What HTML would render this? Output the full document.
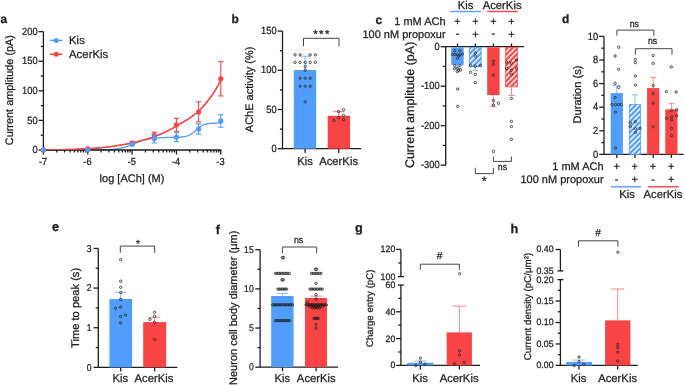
<!DOCTYPE html>
<html><head><meta charset="utf-8"><style>
html,body{margin:0;padding:0;background:#fff;overflow:hidden;}
svg{display:block;will-change:transform;}
text{font-family:"Liberation Sans", sans-serif;fill:#1e1e1e;stroke:#1e1e1e;stroke-width:0.25px;}
</style></head><body>
<svg width="685" height="385" viewBox="0 0 685 385">
<rect width="685" height="385" fill="#fff"/>
<defs>
<pattern id="hb" patternUnits="userSpaceOnUse" width="3.75" height="3.75" patternTransform="rotate(45)">
<rect width="3.75" height="3.75" fill="#529df9"/><rect x="0" width="1.45" height="3.75" fill="#fff"/></pattern>
<pattern id="hr" patternUnits="userSpaceOnUse" width="3.75" height="3.75" patternTransform="rotate(45)">
<rect width="3.75" height="3.75" fill="#f84444"/><rect x="0" width="1.45" height="3.75" fill="#fff"/></pattern>
<clipPath id="clipa"><rect x="40" y="0" width="200" height="149.9"/></clipPath>
</defs>
<text font-size="12" font-weight="bold" transform="translate(0.50 22.60) skewX(0.4)">a</text>
<path d="M43.40,150.00 L44.14,150.00 L44.88,150.00 L45.63,150.00 L46.37,150.00 L47.11,150.00 L47.85,150.00 L48.60,150.00 L49.34,150.00 L50.08,150.00 L50.82,150.00 L51.56,150.00 L52.31,150.00 L53.05,150.00 L53.79,150.00 L54.53,150.00 L55.28,150.00 L56.02,150.00 L56.76,150.00 L57.50,150.00 L58.25,150.00 L58.99,150.00 L59.73,150.00 L60.47,150.00 L61.21,150.00 L61.96,150.00 L62.70,150.00 L63.44,150.00 L64.18,150.00 L64.93,150.00 L65.67,150.00 L66.41,150.00 L67.15,150.00 L67.89,150.00 L68.64,150.00 L69.38,150.00 L70.12,150.00 L70.86,150.00 L71.61,150.00 L72.35,150.00 L73.09,150.00 L73.83,150.00 L74.57,149.99 L75.32,149.99 L76.06,149.99 L76.80,149.99 L77.54,149.99 L78.29,149.99 L79.03,149.99 L79.77,149.99 L80.51,149.99 L81.26,149.99 L82.00,149.99 L82.74,149.98 L83.48,149.98 L84.22,149.98 L84.97,149.98 L85.71,149.98 L86.45,149.97 L87.19,149.97 L87.94,149.97 L88.68,149.97 L89.42,149.96 L90.16,149.96 L90.90,149.95 L91.65,149.95 L92.39,149.95 L93.13,149.94 L93.87,149.93 L94.62,149.93 L95.36,149.92 L96.10,149.91 L96.84,149.90 L97.58,149.89 L98.33,149.88 L99.07,149.87 L99.81,149.86 L100.55,149.84 L101.30,149.83 L102.04,149.81 L102.78,149.79 L103.52,149.77 L104.27,149.75 L105.01,149.72 L105.75,149.70 L106.49,149.67 L107.23,149.63 L107.98,149.60 L108.72,149.56 L109.46,149.51 L110.20,149.47 L110.95,149.42 L111.69,149.36 L112.43,149.30 L113.17,149.23 L113.91,149.16 L114.66,149.08 L115.40,148.99 L116.14,148.90 L116.88,148.80 L117.63,148.69 L118.37,148.57 L119.11,148.45 L119.85,148.31 L120.59,148.17 L121.34,148.01 L122.08,147.84 L122.82,147.66 L123.56,147.47 L124.31,147.27 L125.05,147.06 L125.79,146.84 L126.53,146.60 L127.28,146.36 L128.02,146.10 L128.76,145.84 L129.50,145.56 L130.24,145.28 L130.99,144.99 L131.73,144.70 L132.47,144.40 L133.21,144.09 L133.96,143.79 L134.70,143.48 L135.44,143.18 L136.18,142.87 L136.92,142.57 L137.67,142.28 L138.41,141.99 L139.15,141.71 L139.89,141.43 L140.64,141.17 L141.38,140.91 L142.12,140.67 L142.86,140.43 L143.61,140.21 L144.35,140.00 L145.09,139.80 L145.83,139.61 L146.57,139.43 L147.32,139.26 L148.06,139.11 L148.80,138.96 L149.54,138.83 L150.29,138.70 L151.03,138.58 L151.77,138.47 L152.51,138.37 L153.25,138.28 L154.00,138.19 L154.74,138.12 L155.48,138.04 L156.22,137.98 L156.97,137.92 L157.71,137.86 L158.45,137.81 L159.19,137.76 L159.93,137.72 L160.68,137.68 L161.42,137.64 L162.16,137.61 L162.90,137.58 L163.65,137.55 L164.39,137.53 L165.13,137.50 L165.87,137.48 L166.62,137.46 L167.36,137.44 L168.10,137.42 L168.84,137.41 L169.58,137.39 L170.33,137.38 L171.07,137.36 L171.81,137.35 L172.55,137.33 L173.30,137.32 L174.04,137.30 L174.78,137.29 L175.52,137.27 L176.26,137.25 L177.01,137.22 L177.75,137.20 L178.49,137.17 L179.23,137.13 L179.98,137.09 L180.72,137.04 L181.46,136.98 L182.20,136.91 L182.94,136.83 L183.69,136.74 L184.43,136.62 L185.17,136.48 L185.91,136.32 L186.66,136.13 L187.40,135.90 L188.14,135.64 L188.88,135.34 L189.63,134.99 L190.37,134.59 L191.11,134.15 L191.85,133.65 L192.59,133.10 L193.34,132.51 L194.08,131.89 L194.82,131.23 L195.56,130.55 L196.31,129.87 L197.05,129.19 L197.79,128.53 L198.53,127.90 L199.27,127.30 L200.02,126.75 L200.76,126.25 L201.50,125.80 L202.24,125.40 L202.99,125.05 L203.73,124.75 L204.47,124.48 L205.21,124.26 L205.95,124.06 L206.70,123.90 L207.44,123.76 L208.18,123.65 L208.92,123.55 L209.67,123.47 L210.41,123.40 L211.15,123.35 L211.89,123.30 L212.64,123.26 L213.38,123.23 L214.12,123.20 L214.86,123.18 L215.60,123.16 L216.35,123.15 L217.09,123.13 L217.83,123.12 L218.57,123.12 L219.32,123.11 L220.06,123.10 L220.80,123.10" fill="none" stroke="#529df9" stroke-width="1.3"/>
<path d="M43.40,149.82 L44.14,149.82 L44.88,149.81 L45.63,149.80 L46.37,149.80 L47.11,149.79 L47.85,149.78 L48.60,149.78 L49.34,149.77 L50.08,149.76 L50.82,149.75 L51.56,149.74 L52.31,149.74 L53.05,149.73 L53.79,149.72 L54.53,149.71 L55.28,149.70 L56.02,149.69 L56.76,149.68 L57.50,149.67 L58.25,149.66 L58.99,149.65 L59.73,149.63 L60.47,149.62 L61.21,149.61 L61.96,149.60 L62.70,149.58 L63.44,149.57 L64.18,149.55 L64.93,149.54 L65.67,149.52 L66.41,149.51 L67.15,149.49 L67.89,149.48 L68.64,149.46 L69.38,149.44 L70.12,149.42 L70.86,149.40 L71.61,149.38 L72.35,149.36 L73.09,149.34 L73.83,149.32 L74.57,149.30 L75.32,149.28 L76.06,149.25 L76.80,149.23 L77.54,149.20 L78.29,149.18 L79.03,149.15 L79.77,149.12 L80.51,149.09 L81.26,149.06 L82.00,149.03 L82.74,149.00 L83.48,148.97 L84.22,148.93 L84.97,148.90 L85.71,148.86 L86.45,148.83 L87.19,148.79 L87.94,148.75 L88.68,148.71 L89.42,148.66 L90.16,148.62 L90.90,148.57 L91.65,148.52 L92.39,148.47 L93.13,148.42 L93.87,148.36 L94.62,148.30 L95.36,148.25 L96.10,148.18 L96.84,148.12 L97.58,148.06 L98.33,147.99 L99.07,147.92 L99.81,147.85 L100.55,147.77 L101.30,147.70 L102.04,147.62 L102.78,147.54 L103.52,147.46 L104.27,147.38 L105.01,147.29 L105.75,147.20 L106.49,147.11 L107.23,147.02 L107.98,146.93 L108.72,146.84 L109.46,146.75 L110.20,146.65 L110.95,146.55 L111.69,146.45 L112.43,146.35 L113.17,146.25 L113.91,146.15 L114.66,146.04 L115.40,145.93 L116.14,145.82 L116.88,145.71 L117.63,145.60 L118.37,145.48 L119.11,145.36 L119.85,145.24 L120.59,145.12 L121.34,144.99 L122.08,144.86 L122.82,144.73 L123.56,144.60 L124.31,144.47 L125.05,144.33 L125.79,144.19 L126.53,144.05 L127.28,143.90 L128.02,143.76 L128.76,143.61 L129.50,143.45 L130.24,143.30 L130.99,143.14 L131.73,142.98 L132.47,142.82 L133.21,142.65 L133.96,142.48 L134.70,142.31 L135.44,142.14 L136.18,141.96 L136.92,141.79 L137.67,141.61 L138.41,141.42 L139.15,141.24 L139.89,141.05 L140.64,140.86 L141.38,140.66 L142.12,140.47 L142.86,140.27 L143.61,140.06 L144.35,139.86 L145.09,139.64 L145.83,139.43 L146.57,139.21 L147.32,138.99 L148.06,138.76 L148.80,138.53 L149.54,138.30 L150.29,138.06 L151.03,137.82 L151.77,137.57 L152.51,137.31 L153.25,137.05 L154.00,136.79 L154.74,136.52 L155.48,136.24 L156.22,135.95 L156.97,135.66 L157.71,135.37 L158.45,135.07 L159.19,134.76 L159.93,134.45 L160.68,134.13 L161.42,133.80 L162.16,133.47 L162.90,133.13 L163.65,132.79 L164.39,132.44 L165.13,132.08 L165.87,131.72 L166.62,131.36 L167.36,130.98 L168.10,130.61 L168.84,130.22 L169.58,129.83 L170.33,129.44 L171.07,129.04 L171.81,128.64 L172.55,128.23 L173.30,127.82 L174.04,127.41 L174.78,126.99 L175.52,126.57 L176.26,126.14 L177.01,125.71 L177.75,125.28 L178.49,124.85 L179.23,124.42 L179.98,123.99 L180.72,123.56 L181.46,123.12 L182.20,122.68 L182.94,122.24 L183.69,121.79 L184.43,121.34 L185.17,120.88 L185.91,120.42 L186.66,119.96 L187.40,119.48 L188.14,119.00 L188.88,118.52 L189.63,118.02 L190.37,117.51 L191.11,117.00 L191.85,116.47 L192.59,115.93 L193.34,115.37 L194.08,114.81 L194.82,114.22 L195.56,113.62 L196.31,113.00 L197.05,112.37 L197.79,111.71 L198.53,111.03 L199.27,110.33 L200.02,109.61 L200.76,108.88 L201.50,108.12 L202.24,107.35 L202.99,106.56 L203.73,105.75 L204.47,104.91 L205.21,104.06 L205.95,103.19 L206.70,102.29 L207.44,101.37 L208.18,100.43 L208.92,99.46 L209.67,98.47 L210.41,97.45 L211.15,96.41 L211.89,95.34 L212.64,94.25 L213.38,93.12 L214.12,91.97 L214.86,90.79 L215.60,89.58 L216.35,88.33 L217.09,87.06 L217.83,85.75 L218.57,84.41 L219.32,83.03 L220.06,81.62 L220.80,80.17" fill="none" stroke="#f84444" stroke-width="1.3"/>
<line x1="43.40" y1="31.65" x2="43.40" y2="150.65" stroke="#1e1e1e" stroke-width="1.3" stroke-linecap="butt"/>
<line x1="38.60" y1="150.00" x2="43.40" y2="150.00" stroke="#1e1e1e" stroke-width="1.3" stroke-linecap="butt"/>
<line x1="38.60" y1="120.41" x2="43.40" y2="120.41" stroke="#1e1e1e" stroke-width="1.3" stroke-linecap="butt"/>
<line x1="38.60" y1="90.83" x2="43.40" y2="90.83" stroke="#1e1e1e" stroke-width="1.3" stroke-linecap="butt"/>
<line x1="38.60" y1="61.24" x2="43.40" y2="61.24" stroke="#1e1e1e" stroke-width="1.3" stroke-linecap="butt"/>
<line x1="38.60" y1="31.65" x2="43.40" y2="31.65" stroke="#1e1e1e" stroke-width="1.3" stroke-linecap="butt"/>
<line x1="40.80" y1="135.21" x2="43.40" y2="135.21" stroke="#1e1e1e" stroke-width="1.3" stroke-linecap="butt"/>
<line x1="40.80" y1="105.62" x2="43.40" y2="105.62" stroke="#1e1e1e" stroke-width="1.3" stroke-linecap="butt"/>
<line x1="40.80" y1="76.03" x2="43.40" y2="76.03" stroke="#1e1e1e" stroke-width="1.3" stroke-linecap="butt"/>
<line x1="40.80" y1="46.44" x2="43.40" y2="46.44" stroke="#1e1e1e" stroke-width="1.3" stroke-linecap="butt"/>
<text font-size="10.4" text-anchor="end" transform="translate(37.60 153.12) skewX(0.4) scale(0.9 1)">0</text>
<text font-size="10.4" text-anchor="end" transform="translate(37.60 123.53) skewX(0.4) scale(0.9 1)">50</text>
<text font-size="10.4" text-anchor="end" transform="translate(37.60 93.95) skewX(0.4) scale(0.9 1)">100</text>
<text font-size="10.4" text-anchor="end" transform="translate(37.60 64.36) skewX(0.4) scale(0.9 1)">150</text>
<text font-size="10.4" text-anchor="end" transform="translate(37.60 34.77) skewX(0.4) scale(0.9 1)">200</text>
<line x1="43.40" y1="150.00" x2="221.40" y2="150.00" stroke="#1e1e1e" stroke-width="1.3" stroke-linecap="butt"/>
<line x1="43.40" y1="150.00" x2="43.40" y2="154.60" stroke="#1e1e1e" stroke-width="1.3" stroke-linecap="butt"/>
<text font-size="10.2" text-anchor="middle" transform="translate(43.10 165.20) skewX(0.4) scale(0.92 1)">-7</text>
<line x1="87.75" y1="150.00" x2="87.75" y2="154.60" stroke="#1e1e1e" stroke-width="1.3" stroke-linecap="butt"/>
<text font-size="10.2" text-anchor="middle" transform="translate(87.45 165.20) skewX(0.4) scale(0.92 1)">-6</text>
<line x1="132.10" y1="150.00" x2="132.10" y2="154.60" stroke="#1e1e1e" stroke-width="1.3" stroke-linecap="butt"/>
<text font-size="10.2" text-anchor="middle" transform="translate(131.80 165.20) skewX(0.4) scale(0.92 1)">-5</text>
<line x1="176.45" y1="150.00" x2="176.45" y2="154.60" stroke="#1e1e1e" stroke-width="1.3" stroke-linecap="butt"/>
<text font-size="10.2" text-anchor="middle" transform="translate(176.15 165.20) skewX(0.4) scale(0.92 1)">-4</text>
<line x1="220.80" y1="150.00" x2="220.80" y2="154.60" stroke="#1e1e1e" stroke-width="1.3" stroke-linecap="butt"/>
<text font-size="10.2" text-anchor="middle" transform="translate(220.50 165.20) skewX(0.4) scale(0.92 1)">-3</text>
<line x1="56.75" y1="150.00" x2="56.75" y2="152.50" stroke="#1e1e1e" stroke-width="1.3" stroke-linecap="butt"/>
<line x1="64.56" y1="150.00" x2="64.56" y2="152.50" stroke="#1e1e1e" stroke-width="1.3" stroke-linecap="butt"/>
<line x1="70.10" y1="150.00" x2="70.10" y2="152.50" stroke="#1e1e1e" stroke-width="1.3" stroke-linecap="butt"/>
<line x1="74.40" y1="150.00" x2="74.40" y2="152.50" stroke="#1e1e1e" stroke-width="1.3" stroke-linecap="butt"/>
<line x1="77.91" y1="150.00" x2="77.91" y2="152.50" stroke="#1e1e1e" stroke-width="1.3" stroke-linecap="butt"/>
<line x1="80.88" y1="150.00" x2="80.88" y2="152.50" stroke="#1e1e1e" stroke-width="1.3" stroke-linecap="butt"/>
<line x1="83.45" y1="150.00" x2="83.45" y2="152.50" stroke="#1e1e1e" stroke-width="1.3" stroke-linecap="butt"/>
<line x1="85.72" y1="150.00" x2="85.72" y2="152.50" stroke="#1e1e1e" stroke-width="1.3" stroke-linecap="butt"/>
<line x1="101.10" y1="150.00" x2="101.10" y2="152.50" stroke="#1e1e1e" stroke-width="1.3" stroke-linecap="butt"/>
<line x1="108.91" y1="150.00" x2="108.91" y2="152.50" stroke="#1e1e1e" stroke-width="1.3" stroke-linecap="butt"/>
<line x1="114.45" y1="150.00" x2="114.45" y2="152.50" stroke="#1e1e1e" stroke-width="1.3" stroke-linecap="butt"/>
<line x1="118.75" y1="150.00" x2="118.75" y2="152.50" stroke="#1e1e1e" stroke-width="1.3" stroke-linecap="butt"/>
<line x1="122.26" y1="150.00" x2="122.26" y2="152.50" stroke="#1e1e1e" stroke-width="1.3" stroke-linecap="butt"/>
<line x1="125.23" y1="150.00" x2="125.23" y2="152.50" stroke="#1e1e1e" stroke-width="1.3" stroke-linecap="butt"/>
<line x1="127.80" y1="150.00" x2="127.80" y2="152.50" stroke="#1e1e1e" stroke-width="1.3" stroke-linecap="butt"/>
<line x1="130.07" y1="150.00" x2="130.07" y2="152.50" stroke="#1e1e1e" stroke-width="1.3" stroke-linecap="butt"/>
<line x1="145.45" y1="150.00" x2="145.45" y2="152.50" stroke="#1e1e1e" stroke-width="1.3" stroke-linecap="butt"/>
<line x1="153.26" y1="150.00" x2="153.26" y2="152.50" stroke="#1e1e1e" stroke-width="1.3" stroke-linecap="butt"/>
<line x1="158.80" y1="150.00" x2="158.80" y2="152.50" stroke="#1e1e1e" stroke-width="1.3" stroke-linecap="butt"/>
<line x1="163.10" y1="150.00" x2="163.10" y2="152.50" stroke="#1e1e1e" stroke-width="1.3" stroke-linecap="butt"/>
<line x1="166.61" y1="150.00" x2="166.61" y2="152.50" stroke="#1e1e1e" stroke-width="1.3" stroke-linecap="butt"/>
<line x1="169.58" y1="150.00" x2="169.58" y2="152.50" stroke="#1e1e1e" stroke-width="1.3" stroke-linecap="butt"/>
<line x1="172.15" y1="150.00" x2="172.15" y2="152.50" stroke="#1e1e1e" stroke-width="1.3" stroke-linecap="butt"/>
<line x1="174.42" y1="150.00" x2="174.42" y2="152.50" stroke="#1e1e1e" stroke-width="1.3" stroke-linecap="butt"/>
<line x1="189.80" y1="150.00" x2="189.80" y2="152.50" stroke="#1e1e1e" stroke-width="1.3" stroke-linecap="butt"/>
<line x1="197.61" y1="150.00" x2="197.61" y2="152.50" stroke="#1e1e1e" stroke-width="1.3" stroke-linecap="butt"/>
<line x1="203.15" y1="150.00" x2="203.15" y2="152.50" stroke="#1e1e1e" stroke-width="1.3" stroke-linecap="butt"/>
<line x1="207.45" y1="150.00" x2="207.45" y2="152.50" stroke="#1e1e1e" stroke-width="1.3" stroke-linecap="butt"/>
<line x1="210.96" y1="150.00" x2="210.96" y2="152.50" stroke="#1e1e1e" stroke-width="1.3" stroke-linecap="butt"/>
<line x1="213.93" y1="150.00" x2="213.93" y2="152.50" stroke="#1e1e1e" stroke-width="1.3" stroke-linecap="butt"/>
<line x1="216.50" y1="150.00" x2="216.50" y2="152.50" stroke="#1e1e1e" stroke-width="1.3" stroke-linecap="butt"/>
<line x1="218.77" y1="150.00" x2="218.77" y2="152.50" stroke="#1e1e1e" stroke-width="1.3" stroke-linecap="butt"/>
<text font-size="11" text-anchor="middle" transform="translate(132.00 181.60) skewX(0.4)">log [ACh] (M)</text>
<text font-size="10.9" text-anchor="middle" transform="translate(13.30 90.10) rotate(-90) skewX(0.4)">Current amplitude (pA)</text>
<path d="M43.40,149.82 L44.14,149.82 L44.88,149.81 L45.63,149.80 L46.37,149.80 L47.11,149.79 L47.85,149.78 L48.60,149.78 L49.34,149.77 L50.08,149.76 L50.82,149.75 L51.56,149.74 L52.31,149.74 L53.05,149.73 L53.79,149.72 L54.53,149.71 L55.28,149.70 L56.02,149.69 L56.76,149.68 L57.50,149.67 L58.25,149.66 L58.99,149.65 L59.73,149.63 L60.47,149.62 L61.21,149.61 L61.96,149.60 L62.70,149.58 L63.44,149.57 L64.18,149.55 L64.93,149.54 L65.67,149.52 L66.41,149.51 L67.15,149.49 L67.89,149.48 L68.64,149.46 L69.38,149.44 L70.12,149.42 L70.86,149.40 L71.61,149.38 L72.35,149.36 L73.09,149.34 L73.83,149.32 L74.57,149.30 L75.32,149.28 L76.06,149.25 L76.80,149.23 L77.54,149.20 L78.29,149.18 L79.03,149.15 L79.77,149.12 L80.51,149.09 L81.26,149.06 L82.00,149.03 L82.74,149.00 L83.48,148.97 L84.22,148.93 L84.97,148.90 L85.71,148.86 L86.45,148.83 L87.19,148.79 L87.94,148.75 L88.68,148.71 L89.42,148.66 L90.16,148.62 L90.90,148.57 L91.65,148.52 L92.39,148.47 L93.13,148.42 L93.87,148.36 L94.62,148.30 L95.36,148.25 L96.10,148.18 L96.84,148.12 L97.58,148.06 L98.33,147.99 L99.07,147.92 L99.81,147.85 L100.55,147.77 L101.30,147.70 L102.04,147.62 L102.78,147.54 L103.52,147.46 L104.27,147.38 L105.01,147.29 L105.75,147.20 L106.49,147.11 L107.23,147.02 L107.98,146.93 L108.72,146.84 L109.46,146.75 L110.20,146.65 L110.95,146.55 L111.69,146.45 L112.43,146.35 L113.17,146.25 L113.91,146.15 L114.66,146.04 L115.40,145.93 L116.14,145.82 L116.88,145.71 L117.63,145.60 L118.37,145.48 L119.11,145.36 L119.85,145.24 L120.59,145.12 L121.34,144.99 L122.08,144.86 L122.82,144.73 L123.56,144.60 L124.31,144.47 L125.05,144.33 L125.79,144.19 L126.53,144.05 L127.28,143.90 L128.02,143.76 L128.76,143.61 L129.50,143.45 L130.24,143.30 L130.99,143.14 L131.73,142.98 L132.47,142.82 L133.21,142.65 L133.96,142.48 L134.70,142.31 L135.44,142.14 L136.18,141.96 L136.92,141.79 L137.67,141.61 L138.41,141.42 L139.15,141.24 L139.89,141.05 L140.64,140.86 L141.38,140.66 L142.12,140.47 L142.86,140.27 L143.61,140.06 L144.35,139.86 L145.09,139.64 L145.83,139.43 L146.57,139.21 L147.32,138.99 L148.06,138.76 L148.80,138.53 L149.54,138.30 L150.29,138.06 L151.03,137.82 L151.77,137.57 L152.51,137.31 L153.25,137.05 L154.00,136.79 L154.74,136.52 L155.48,136.24 L156.22,135.95 L156.97,135.66 L157.71,135.37 L158.45,135.07 L159.19,134.76 L159.93,134.45 L160.68,134.13 L161.42,133.80 L162.16,133.47 L162.90,133.13 L163.65,132.79 L164.39,132.44 L165.13,132.08 L165.87,131.72 L166.62,131.36 L167.36,130.98 L168.10,130.61 L168.84,130.22 L169.58,129.83 L170.33,129.44 L171.07,129.04 L171.81,128.64 L172.55,128.23 L173.30,127.82 L174.04,127.41 L174.78,126.99 L175.52,126.57 L176.26,126.14 L177.01,125.71 L177.75,125.28 L178.49,124.85 L179.23,124.42 L179.98,123.99 L180.72,123.56 L181.46,123.12 L182.20,122.68 L182.94,122.24 L183.69,121.79 L184.43,121.34 L185.17,120.88 L185.91,120.42 L186.66,119.96 L187.40,119.48 L188.14,119.00 L188.88,118.52 L189.63,118.02 L190.37,117.51 L191.11,117.00 L191.85,116.47 L192.59,115.93 L193.34,115.37 L194.08,114.81 L194.82,114.22 L195.56,113.62 L196.31,113.00 L197.05,112.37 L197.79,111.71 L198.53,111.03 L199.27,110.33 L200.02,109.61 L200.76,108.88 L201.50,108.12 L202.24,107.35 L202.99,106.56 L203.73,105.75 L204.47,104.91 L205.21,104.06 L205.95,103.19 L206.70,102.29 L207.44,101.37 L208.18,100.43 L208.92,99.46 L209.67,98.47 L210.41,97.45 L211.15,96.41 L211.89,95.34 L212.64,94.25 L213.38,93.12 L214.12,91.97 L214.86,90.79 L215.60,89.58 L216.35,88.33 L217.09,87.06 L217.83,85.75 L218.57,84.41 L219.32,83.03 L220.06,81.62 L220.80,80.17" fill="none" stroke="#f84444" stroke-width="1.3" clip-path="url(#clipa)"/>
<line x1="132.10" y1="143.02" x2="132.10" y2="142.13" stroke="#f84444" stroke-width="1.1" stroke-linecap="butt"/>
<line x1="129.50" y1="142.13" x2="134.70" y2="142.13" stroke="#f84444" stroke-width="1.1" stroke-linecap="butt"/>
<line x1="132.10" y1="143.02" x2="132.10" y2="143.90" stroke="#f84444" stroke-width="1.1" stroke-linecap="butt"/>
<line x1="129.50" y1="143.90" x2="134.70" y2="143.90" stroke="#f84444" stroke-width="1.1" stroke-linecap="butt"/>
<line x1="154.28" y1="135.38" x2="154.28" y2="132.13" stroke="#f84444" stroke-width="1.1" stroke-linecap="butt"/>
<line x1="151.68" y1="132.13" x2="156.88" y2="132.13" stroke="#f84444" stroke-width="1.1" stroke-linecap="butt"/>
<line x1="154.28" y1="135.38" x2="154.28" y2="138.64" stroke="#f84444" stroke-width="1.1" stroke-linecap="butt"/>
<line x1="151.68" y1="138.64" x2="156.88" y2="138.64" stroke="#f84444" stroke-width="1.1" stroke-linecap="butt"/>
<line x1="176.45" y1="124.85" x2="176.45" y2="118.34" stroke="#f84444" stroke-width="1.1" stroke-linecap="butt"/>
<line x1="173.85" y1="118.34" x2="179.05" y2="118.34" stroke="#f84444" stroke-width="1.1" stroke-linecap="butt"/>
<line x1="176.45" y1="124.85" x2="176.45" y2="131.36" stroke="#f84444" stroke-width="1.1" stroke-linecap="butt"/>
<line x1="173.85" y1="131.36" x2="179.05" y2="131.36" stroke="#f84444" stroke-width="1.1" stroke-linecap="butt"/>
<line x1="198.62" y1="111.89" x2="198.62" y2="101.83" stroke="#f84444" stroke-width="1.1" stroke-linecap="butt"/>
<line x1="196.03" y1="101.83" x2="201.22" y2="101.83" stroke="#f84444" stroke-width="1.1" stroke-linecap="butt"/>
<line x1="198.62" y1="111.89" x2="198.62" y2="121.95" stroke="#f84444" stroke-width="1.1" stroke-linecap="butt"/>
<line x1="196.03" y1="121.95" x2="201.22" y2="121.95" stroke="#f84444" stroke-width="1.1" stroke-linecap="butt"/>
<line x1="220.80" y1="78.75" x2="220.80" y2="61.59" stroke="#f84444" stroke-width="1.1" stroke-linecap="butt"/>
<line x1="218.20" y1="61.59" x2="223.40" y2="61.59" stroke="#f84444" stroke-width="1.1" stroke-linecap="butt"/>
<line x1="220.80" y1="78.75" x2="220.80" y2="95.91" stroke="#f84444" stroke-width="1.1" stroke-linecap="butt"/>
<line x1="218.20" y1="95.91" x2="223.40" y2="95.91" stroke="#f84444" stroke-width="1.1" stroke-linecap="butt"/>
<circle cx="43.40" cy="149.76" r="2.6" fill="#f84444"/>
<circle cx="87.75" cy="148.82" r="2.6" fill="#f84444"/>
<circle cx="132.10" cy="143.02" r="2.6" fill="#f84444"/>
<circle cx="154.28" cy="135.38" r="2.6" fill="#f84444"/>
<circle cx="176.45" cy="124.85" r="2.6" fill="#f84444"/>
<circle cx="198.62" cy="111.89" r="2.6" fill="#f84444"/>
<circle cx="220.80" cy="78.75" r="2.6" fill="#f84444"/>
<line x1="132.10" y1="144.32" x2="132.10" y2="143.43" stroke="#529df9" stroke-width="1.1" stroke-linecap="butt"/>
<line x1="129.50" y1="143.43" x2="134.70" y2="143.43" stroke="#529df9" stroke-width="1.1" stroke-linecap="butt"/>
<line x1="132.10" y1="144.32" x2="132.10" y2="145.21" stroke="#529df9" stroke-width="1.1" stroke-linecap="butt"/>
<line x1="129.50" y1="145.21" x2="134.70" y2="145.21" stroke="#529df9" stroke-width="1.1" stroke-linecap="butt"/>
<line x1="154.28" y1="138.70" x2="154.28" y2="134.44" stroke="#529df9" stroke-width="1.1" stroke-linecap="butt"/>
<line x1="151.68" y1="134.44" x2="156.88" y2="134.44" stroke="#529df9" stroke-width="1.1" stroke-linecap="butt"/>
<line x1="154.28" y1="138.70" x2="154.28" y2="142.96" stroke="#529df9" stroke-width="1.1" stroke-linecap="butt"/>
<line x1="151.68" y1="142.96" x2="156.88" y2="142.96" stroke="#529df9" stroke-width="1.1" stroke-linecap="butt"/>
<line x1="176.45" y1="137.16" x2="176.45" y2="132.72" stroke="#529df9" stroke-width="1.1" stroke-linecap="butt"/>
<line x1="173.85" y1="132.72" x2="179.05" y2="132.72" stroke="#529df9" stroke-width="1.1" stroke-linecap="butt"/>
<line x1="176.45" y1="137.16" x2="176.45" y2="141.60" stroke="#529df9" stroke-width="1.1" stroke-linecap="butt"/>
<line x1="173.85" y1="141.60" x2="179.05" y2="141.60" stroke="#529df9" stroke-width="1.1" stroke-linecap="butt"/>
<line x1="198.62" y1="129.05" x2="198.62" y2="123.84" stroke="#529df9" stroke-width="1.1" stroke-linecap="butt"/>
<line x1="196.03" y1="123.84" x2="201.22" y2="123.84" stroke="#529df9" stroke-width="1.1" stroke-linecap="butt"/>
<line x1="198.62" y1="129.05" x2="198.62" y2="134.26" stroke="#529df9" stroke-width="1.1" stroke-linecap="butt"/>
<line x1="196.03" y1="134.26" x2="201.22" y2="134.26" stroke="#529df9" stroke-width="1.1" stroke-linecap="butt"/>
<line x1="220.80" y1="120.95" x2="220.80" y2="114.73" stroke="#529df9" stroke-width="1.1" stroke-linecap="butt"/>
<line x1="218.20" y1="114.73" x2="223.40" y2="114.73" stroke="#529df9" stroke-width="1.1" stroke-linecap="butt"/>
<line x1="220.80" y1="120.95" x2="220.80" y2="127.16" stroke="#529df9" stroke-width="1.1" stroke-linecap="butt"/>
<line x1="218.20" y1="127.16" x2="223.40" y2="127.16" stroke="#529df9" stroke-width="1.1" stroke-linecap="butt"/>
<circle cx="43.40" cy="150.00" r="2.6" fill="#529df9"/>
<circle cx="87.75" cy="150.00" r="2.6" fill="#529df9"/>
<circle cx="132.10" cy="144.32" r="2.6" fill="#529df9"/>
<circle cx="154.28" cy="138.70" r="2.6" fill="#529df9"/>
<circle cx="176.45" cy="137.16" r="2.6" fill="#529df9"/>
<circle cx="198.62" cy="129.05" r="2.6" fill="#529df9"/>
<circle cx="220.80" cy="120.95" r="2.6" fill="#529df9"/>
<line x1="49.90" y1="40.40" x2="62.60" y2="40.40" stroke="#529df9" stroke-width="1.4" stroke-linecap="butt"/>
<circle cx="56.20" cy="40.40" r="2.5" fill="#529df9"/>
<text font-size="11.4" transform="translate(69.00 44.40) skewX(0.4)">Kis</text>
<line x1="49.90" y1="54.30" x2="62.60" y2="54.30" stroke="#f84444" stroke-width="1.4" stroke-linecap="butt"/>
<circle cx="56.20" cy="54.30" r="2.5" fill="#f84444"/>
<text font-size="11.4" transform="translate(69.00 58.20) skewX(0.4)">AcerKis</text>
<text font-size="12" font-weight="bold" transform="translate(231.60 22.80) skewX(0.4)">b</text>
<line x1="282.50" y1="31.10" x2="282.50" y2="149.35" stroke="#1e1e1e" stroke-width="1.3" stroke-linecap="butt"/>
<line x1="277.70" y1="148.70" x2="282.50" y2="148.70" stroke="#1e1e1e" stroke-width="1.3" stroke-linecap="butt"/>
<line x1="277.70" y1="109.50" x2="282.50" y2="109.50" stroke="#1e1e1e" stroke-width="1.3" stroke-linecap="butt"/>
<line x1="277.70" y1="70.30" x2="282.50" y2="70.30" stroke="#1e1e1e" stroke-width="1.3" stroke-linecap="butt"/>
<line x1="277.70" y1="31.10" x2="282.50" y2="31.10" stroke="#1e1e1e" stroke-width="1.3" stroke-linecap="butt"/>
<line x1="279.90" y1="129.10" x2="282.50" y2="129.10" stroke="#1e1e1e" stroke-width="1.3" stroke-linecap="butt"/>
<line x1="279.90" y1="89.90" x2="282.50" y2="89.90" stroke="#1e1e1e" stroke-width="1.3" stroke-linecap="butt"/>
<line x1="279.90" y1="50.70" x2="282.50" y2="50.70" stroke="#1e1e1e" stroke-width="1.3" stroke-linecap="butt"/>
<text font-size="10.4" text-anchor="end" transform="translate(276.70 151.82) skewX(0.4) scale(0.9 1)">0</text>
<text font-size="10.4" text-anchor="end" transform="translate(276.70 112.62) skewX(0.4) scale(0.9 1)">50</text>
<text font-size="10.4" text-anchor="end" transform="translate(276.70 73.42) skewX(0.4) scale(0.9 1)">100</text>
<text font-size="10.4" text-anchor="end" transform="translate(276.70 34.22) skewX(0.4) scale(0.9 1)">150</text>
<line x1="282.50" y1="148.70" x2="361.20" y2="148.70" stroke="#1e1e1e" stroke-width="1.3" stroke-linecap="butt"/>
<line x1="305.10" y1="148.70" x2="305.10" y2="152.90" stroke="#1e1e1e" stroke-width="1.3" stroke-linecap="butt"/>
<line x1="338.80" y1="148.70" x2="338.80" y2="152.90" stroke="#1e1e1e" stroke-width="1.3" stroke-linecap="butt"/>
<rect x="293.80" y="70.06" width="22.40" height="78.64" fill="#529df9"/>
<rect x="327.70" y="115.77" width="22.40" height="32.93" fill="#f84444"/>
<line x1="305.10" y1="70.06" x2="305.10" y2="56.20" stroke="#86bcf9" stroke-width="1.1" stroke-linecap="butt"/>
<line x1="300.00" y1="56.20" x2="310.20" y2="56.20" stroke="#86bcf9" stroke-width="1.1" stroke-linecap="butt"/>
<line x1="338.70" y1="115.77" x2="338.70" y2="111.60" stroke="#f98a8a" stroke-width="1.1" stroke-linecap="butt"/>
<line x1="333.10" y1="111.60" x2="344.30" y2="111.60" stroke="#f98a8a" stroke-width="1.1" stroke-linecap="butt"/>
<circle cx="295.10" cy="54.80" r="1.2" fill="none" stroke="#2b2b2b" stroke-width="0.82"/>
<circle cx="300.10" cy="54.80" r="1.2" fill="none" stroke="#2b2b2b" stroke-width="0.82"/>
<circle cx="310.20" cy="54.80" r="1.2" fill="none" stroke="#2b2b2b" stroke-width="0.82"/>
<circle cx="315.40" cy="54.80" r="1.2" fill="none" stroke="#2b2b2b" stroke-width="0.82"/>
<circle cx="295.10" cy="62.40" r="1.2" fill="none" stroke="#2b2b2b" stroke-width="0.82"/>
<circle cx="300.10" cy="62.40" r="1.2" fill="none" stroke="#2b2b2b" stroke-width="0.82"/>
<circle cx="305.20" cy="62.40" r="1.2" fill="none" stroke="#2b2b2b" stroke-width="0.82"/>
<circle cx="310.20" cy="62.40" r="1.2" fill="none" stroke="#2b2b2b" stroke-width="0.82"/>
<circle cx="315.40" cy="62.40" r="1.2" fill="none" stroke="#2b2b2b" stroke-width="0.82"/>
<circle cx="305.20" cy="66.50" r="1.2" fill="none" stroke="#2b2b2b" stroke-width="0.82"/>
<circle cx="305.20" cy="70.20" r="1.2" fill="none" stroke="#2b2b2b" stroke-width="0.82"/>
<circle cx="300.10" cy="78.20" r="1.2" fill="none" stroke="#2b2b2b" stroke-width="0.82"/>
<circle cx="305.20" cy="78.20" r="1.2" fill="none" stroke="#2b2b2b" stroke-width="0.82"/>
<circle cx="310.20" cy="78.20" r="1.2" fill="none" stroke="#2b2b2b" stroke-width="0.82"/>
<circle cx="300.10" cy="86.20" r="1.2" fill="none" stroke="#2b2b2b" stroke-width="0.82"/>
<circle cx="305.20" cy="86.20" r="1.2" fill="none" stroke="#2b2b2b" stroke-width="0.82"/>
<circle cx="310.20" cy="86.20" r="1.2" fill="none" stroke="#2b2b2b" stroke-width="0.82"/>
<circle cx="305.20" cy="101.80" r="1.2" fill="none" stroke="#2b2b2b" stroke-width="0.82"/>
<circle cx="343.50" cy="109.60" r="1.2" fill="none" stroke="#2b2b2b" stroke-width="0.82"/>
<circle cx="338.60" cy="111.70" r="1.2" fill="none" stroke="#2b2b2b" stroke-width="0.82"/>
<circle cx="343.50" cy="115.50" r="1.2" fill="none" stroke="#2b2b2b" stroke-width="0.82"/>
<circle cx="338.60" cy="117.40" r="1.2" fill="none" stroke="#2b2b2b" stroke-width="0.82"/>
<circle cx="343.50" cy="119.70" r="1.2" fill="none" stroke="#2b2b2b" stroke-width="0.82"/>
<circle cx="334.10" cy="120.60" r="1.2" fill="none" stroke="#2b2b2b" stroke-width="0.82"/>
<polyline points="303.50,46.40 303.50,38.30 339.00,38.30 339.00,46.40" fill="none" stroke="#474747" stroke-width="1.0" stroke-linejoin="miter"/>
<text font-size="11.6" text-anchor="middle" transform="translate(322.00 38.00) skewX(0.4)" letter-spacing="1.4">***</text>
<text font-size="11.3" text-anchor="middle" transform="translate(305.10 164.60) skewX(0.4)">Kis</text>
<text font-size="11.3" text-anchor="middle" transform="translate(338.60 164.60) skewX(0.4)">AcerKis</text>
<text font-size="11" text-anchor="middle" transform="translate(253.40 89.40) rotate(-90) skewX(0.4)">AChE activity (%)</text>
<text font-size="12" font-weight="bold" transform="translate(375.60 23.60) skewX(0.4)">c</text>
<line x1="445.70" y1="46.05" x2="445.70" y2="165.85" stroke="#1e1e1e" stroke-width="1.3" stroke-linecap="butt"/>
<line x1="440.70" y1="46.70" x2="445.70" y2="46.70" stroke="#1e1e1e" stroke-width="1.3" stroke-linecap="butt"/>
<text font-size="10.4" text-anchor="end" transform="translate(439.70 49.82) skewX(0.4) scale(0.9 1)">0</text>
<line x1="440.70" y1="86.20" x2="445.70" y2="86.20" stroke="#1e1e1e" stroke-width="1.3" stroke-linecap="butt"/>
<text font-size="10.4" text-anchor="end" transform="translate(439.70 89.32) skewX(0.4) scale(0.9 1)">-100</text>
<line x1="440.70" y1="125.70" x2="445.70" y2="125.70" stroke="#1e1e1e" stroke-width="1.3" stroke-linecap="butt"/>
<text font-size="10.4" text-anchor="end" transform="translate(439.70 128.82) skewX(0.4) scale(0.9 1)">-200</text>
<line x1="440.70" y1="165.20" x2="445.70" y2="165.20" stroke="#1e1e1e" stroke-width="1.3" stroke-linecap="butt"/>
<text font-size="10.4" text-anchor="end" transform="translate(439.70 168.32) skewX(0.4) scale(0.9 1)">-300</text>
<line x1="442.70" y1="66.45" x2="445.70" y2="66.45" stroke="#1e1e1e" stroke-width="1.3" stroke-linecap="butt"/>
<line x1="442.70" y1="105.95" x2="445.70" y2="105.95" stroke="#1e1e1e" stroke-width="1.3" stroke-linecap="butt"/>
<line x1="442.70" y1="145.45" x2="445.70" y2="145.45" stroke="#1e1e1e" stroke-width="1.3" stroke-linecap="butt"/>
<line x1="445.70" y1="46.70" x2="524.20" y2="46.70" stroke="#1e1e1e" stroke-width="1.3" stroke-linecap="butt"/>
<line x1="457.50" y1="46.70" x2="457.50" y2="43.50" stroke="#1e1e1e" stroke-width="1.3" stroke-linecap="butt"/>
<line x1="475.40" y1="46.70" x2="475.40" y2="43.50" stroke="#1e1e1e" stroke-width="1.3" stroke-linecap="butt"/>
<line x1="493.40" y1="46.70" x2="493.40" y2="43.50" stroke="#1e1e1e" stroke-width="1.3" stroke-linecap="butt"/>
<line x1="511.50" y1="46.70" x2="511.50" y2="43.50" stroke="#1e1e1e" stroke-width="1.3" stroke-linecap="butt"/>
<rect x="451.30" y="47.30" width="12.40" height="17.65" fill="#529df9"/>
<rect x="469.60" y="47.30" width="11.60" height="19.14" fill="url(#hb)" stroke="#529df9" stroke-width="0.8"/>
<rect x="487.20" y="47.30" width="12.40" height="47.79" fill="#f84444"/>
<rect x="505.70" y="47.30" width="11.60" height="39.49" fill="url(#hr)" stroke="#f84444" stroke-width="0.8"/>
<line x1="457.50" y1="64.95" x2="457.50" y2="68.60" stroke="#86bcf9" stroke-width="1.0" stroke-linecap="butt"/>
<line x1="454.20" y1="68.60" x2="460.80" y2="68.60" stroke="#86bcf9" stroke-width="1.0" stroke-linecap="butt"/>
<line x1="475.40" y1="66.84" x2="475.40" y2="70.30" stroke="#86bcf9" stroke-width="1.0" stroke-linecap="butt"/>
<line x1="472.30" y1="70.30" x2="478.50" y2="70.30" stroke="#86bcf9" stroke-width="1.0" stroke-linecap="butt"/>
<line x1="493.40" y1="95.09" x2="493.40" y2="106.40" stroke="#f98a8a" stroke-width="1.0" stroke-linecap="butt"/>
<line x1="490.20" y1="106.40" x2="496.60" y2="106.40" stroke="#f98a8a" stroke-width="1.0" stroke-linecap="butt"/>
<line x1="511.50" y1="87.19" x2="511.50" y2="95.50" stroke="#f98a8a" stroke-width="1.0" stroke-linecap="butt"/>
<line x1="508.30" y1="95.50" x2="514.70" y2="95.50" stroke="#f98a8a" stroke-width="1.0" stroke-linecap="butt"/>
<circle cx="454.60" cy="50.80" r="1.2" fill="none" stroke="#2b2b2b" stroke-width="0.82"/>
<circle cx="459.80" cy="50.80" r="1.2" fill="none" stroke="#2b2b2b" stroke-width="0.82"/>
<circle cx="452.30" cy="54.40" r="1.2" fill="none" stroke="#2b2b2b" stroke-width="0.82"/>
<circle cx="454.90" cy="54.40" r="1.2" fill="none" stroke="#2b2b2b" stroke-width="0.82"/>
<circle cx="457.50" cy="54.60" r="1.2" fill="none" stroke="#2b2b2b" stroke-width="0.82"/>
<circle cx="460.10" cy="54.90" r="1.2" fill="none" stroke="#2b2b2b" stroke-width="0.82"/>
<circle cx="462.50" cy="53.90" r="1.2" fill="none" stroke="#2b2b2b" stroke-width="0.82"/>
<circle cx="458.60" cy="56.00" r="1.2" fill="none" stroke="#2b2b2b" stroke-width="0.82"/>
<circle cx="457.50" cy="58.30" r="1.2" fill="none" stroke="#2b2b2b" stroke-width="0.82"/>
<circle cx="454.90" cy="65.80" r="1.2" fill="none" stroke="#2b2b2b" stroke-width="0.82"/>
<circle cx="459.90" cy="65.80" r="1.2" fill="none" stroke="#2b2b2b" stroke-width="0.82"/>
<circle cx="454.40" cy="68.70" r="1.2" fill="none" stroke="#2b2b2b" stroke-width="0.82"/>
<circle cx="457.50" cy="68.40" r="1.2" fill="none" stroke="#2b2b2b" stroke-width="0.82"/>
<circle cx="460.40" cy="70.00" r="1.2" fill="none" stroke="#2b2b2b" stroke-width="0.82"/>
<circle cx="457.30" cy="71.50" r="1.2" fill="none" stroke="#2b2b2b" stroke-width="0.82"/>
<circle cx="458.50" cy="70.50" r="1.2" fill="none" stroke="#2b2b2b" stroke-width="0.82"/>
<circle cx="457.70" cy="89.10" r="1.2" fill="none" stroke="#2b2b2b" stroke-width="0.82"/>
<circle cx="457.70" cy="106.30" r="1.2" fill="none" stroke="#2b2b2b" stroke-width="0.82"/>
<circle cx="475.30" cy="53.10" r="1.2" fill="none" stroke="#2b2b2b" stroke-width="0.82"/>
<circle cx="475.30" cy="56.30" r="1.2" fill="none" stroke="#2b2b2b" stroke-width="0.82"/>
<circle cx="470.50" cy="65.50" r="1.2" fill="none" stroke="#2b2b2b" stroke-width="0.82"/>
<circle cx="475.30" cy="66.30" r="1.2" fill="none" stroke="#2b2b2b" stroke-width="0.82"/>
<circle cx="480.50" cy="65.50" r="1.2" fill="none" stroke="#2b2b2b" stroke-width="0.82"/>
<circle cx="470.50" cy="72.30" r="1.2" fill="none" stroke="#2b2b2b" stroke-width="0.82"/>
<circle cx="475.30" cy="74.30" r="1.2" fill="none" stroke="#2b2b2b" stroke-width="0.82"/>
<circle cx="475.30" cy="82.60" r="1.2" fill="none" stroke="#2b2b2b" stroke-width="0.82"/>
<circle cx="493.40" cy="61.10" r="1.2" fill="none" stroke="#2b2b2b" stroke-width="0.82"/>
<circle cx="493.40" cy="64.30" r="1.2" fill="none" stroke="#2b2b2b" stroke-width="0.82"/>
<circle cx="493.40" cy="75.20" r="1.2" fill="none" stroke="#2b2b2b" stroke-width="0.82"/>
<circle cx="493.40" cy="100.50" r="1.2" fill="none" stroke="#2b2b2b" stroke-width="0.82"/>
<circle cx="493.40" cy="104.90" r="1.2" fill="none" stroke="#2b2b2b" stroke-width="0.82"/>
<circle cx="498.50" cy="103.30" r="1.2" fill="none" stroke="#2b2b2b" stroke-width="0.82"/>
<circle cx="493.40" cy="151.40" r="1.2" fill="none" stroke="#2b2b2b" stroke-width="0.82"/>
<circle cx="506.70" cy="62.20" r="1.2" fill="none" stroke="#2b2b2b" stroke-width="0.82"/>
<circle cx="511.30" cy="63.20" r="1.2" fill="none" stroke="#2b2b2b" stroke-width="0.82"/>
<circle cx="516.50" cy="59.90" r="1.2" fill="none" stroke="#2b2b2b" stroke-width="0.82"/>
<circle cx="506.70" cy="68.40" r="1.2" fill="none" stroke="#2b2b2b" stroke-width="0.82"/>
<circle cx="511.30" cy="70.50" r="1.2" fill="none" stroke="#2b2b2b" stroke-width="0.82"/>
<circle cx="516.50" cy="68.40" r="1.2" fill="none" stroke="#2b2b2b" stroke-width="0.82"/>
<circle cx="511.30" cy="74.30" r="1.2" fill="none" stroke="#2b2b2b" stroke-width="0.82"/>
<circle cx="511.40" cy="98.40" r="1.2" fill="none" stroke="#2b2b2b" stroke-width="0.82"/>
<circle cx="511.40" cy="121.40" r="1.2" fill="none" stroke="#2b2b2b" stroke-width="0.82"/>
<circle cx="511.40" cy="126.50" r="1.2" fill="none" stroke="#2b2b2b" stroke-width="0.82"/>
<circle cx="511.40" cy="139.40" r="1.2" fill="none" stroke="#2b2b2b" stroke-width="0.82"/>
<text font-size="11" text-anchor="end" transform="translate(445.60 24.70) skewX(0.4)">1 mM ACh</text>
<text font-size="11" text-anchor="end" transform="translate(445.60 37.80) skewX(0.4)">100 nM propoxur</text>
<text font-size="11" text-anchor="middle" transform="translate(457.50 24.90) skewX(0.4)">+</text>
<text font-size="11" text-anchor="middle" transform="translate(457.50 37.30) skewX(0.4)">-</text>
<text font-size="11" text-anchor="middle" transform="translate(475.40 24.90) skewX(0.4)">+</text>
<text font-size="11" text-anchor="middle" transform="translate(475.40 38.00) skewX(0.4)">+</text>
<text font-size="11" text-anchor="middle" transform="translate(493.40 24.90) skewX(0.4)">+</text>
<text font-size="11" text-anchor="middle" transform="translate(493.40 37.30) skewX(0.4)">-</text>
<text font-size="11" text-anchor="middle" transform="translate(511.50 24.90) skewX(0.4)">+</text>
<text font-size="11" text-anchor="middle" transform="translate(511.50 38.00) skewX(0.4)">+</text>
<text font-size="11.3" text-anchor="middle" transform="translate(465.50 8.70) skewX(0.4)">Kis</text>
<text font-size="11.3" text-anchor="middle" transform="translate(502.10 8.70) skewX(0.4)">AcerKis</text>
<line x1="450.10" y1="11.50" x2="480.80" y2="11.50" stroke="#62a5f7" stroke-width="1.5" stroke-linecap="butt"/>
<line x1="487.20" y1="11.50" x2="517.90" y2="11.50" stroke="#f04b55" stroke-width="1.5" stroke-linecap="butt"/>
<polyline points="493.40,156.60 493.40,161.40 511.40,161.40 511.40,156.60" fill="none" stroke="#474747" stroke-width="1.0" stroke-linejoin="miter"/>
<text font-size="9.6" text-anchor="middle" transform="translate(502.50 169.90) skewX(0.4) scale(0.92 1)">ns</text>
<polyline points="475.30,167.80 475.30,173.60 493.40,173.60 493.40,167.80" fill="none" stroke="#474747" stroke-width="1.0" stroke-linejoin="miter"/>
<text font-size="12" text-anchor="middle" transform="translate(484.40 185.20) skewX(0.4)">*</text>
<text font-size="12.5" text-anchor="middle" transform="translate(413.70 104.90) rotate(-90) skewX(0.4)">Current amplitude (pA)</text>
<text font-size="12" font-weight="bold" transform="translate(562.00 22.70) skewX(0.4)">d</text>
<line x1="604.00" y1="36.40" x2="604.00" y2="155.05" stroke="#1e1e1e" stroke-width="1.3" stroke-linecap="butt"/>
<line x1="599.20" y1="154.40" x2="604.00" y2="154.40" stroke="#1e1e1e" stroke-width="1.3" stroke-linecap="butt"/>
<text font-size="10.4" text-anchor="end" transform="translate(598.20 157.52) skewX(0.4) scale(0.9 1)">0</text>
<line x1="599.20" y1="130.80" x2="604.00" y2="130.80" stroke="#1e1e1e" stroke-width="1.3" stroke-linecap="butt"/>
<text font-size="10.4" text-anchor="end" transform="translate(598.20 133.92) skewX(0.4) scale(0.9 1)">2</text>
<line x1="599.20" y1="107.20" x2="604.00" y2="107.20" stroke="#1e1e1e" stroke-width="1.3" stroke-linecap="butt"/>
<text font-size="10.4" text-anchor="end" transform="translate(598.20 110.32) skewX(0.4) scale(0.9 1)">4</text>
<line x1="599.20" y1="83.60" x2="604.00" y2="83.60" stroke="#1e1e1e" stroke-width="1.3" stroke-linecap="butt"/>
<text font-size="10.4" text-anchor="end" transform="translate(598.20 86.72) skewX(0.4) scale(0.9 1)">6</text>
<line x1="599.20" y1="60.00" x2="604.00" y2="60.00" stroke="#1e1e1e" stroke-width="1.3" stroke-linecap="butt"/>
<text font-size="10.4" text-anchor="end" transform="translate(598.20 63.12) skewX(0.4) scale(0.9 1)">8</text>
<line x1="599.20" y1="36.40" x2="604.00" y2="36.40" stroke="#1e1e1e" stroke-width="1.3" stroke-linecap="butt"/>
<text font-size="10.4" text-anchor="end" transform="translate(598.20 39.52) skewX(0.4) scale(0.9 1)">10</text>
<line x1="601.40" y1="142.60" x2="604.00" y2="142.60" stroke="#1e1e1e" stroke-width="1.3" stroke-linecap="butt"/>
<line x1="601.40" y1="119.00" x2="604.00" y2="119.00" stroke="#1e1e1e" stroke-width="1.3" stroke-linecap="butt"/>
<line x1="601.40" y1="95.40" x2="604.00" y2="95.40" stroke="#1e1e1e" stroke-width="1.3" stroke-linecap="butt"/>
<line x1="601.40" y1="71.80" x2="604.00" y2="71.80" stroke="#1e1e1e" stroke-width="1.3" stroke-linecap="butt"/>
<line x1="601.40" y1="48.20" x2="604.00" y2="48.20" stroke="#1e1e1e" stroke-width="1.3" stroke-linecap="butt"/>
<line x1="604.00" y1="154.40" x2="683.50" y2="154.40" stroke="#1e1e1e" stroke-width="1.3" stroke-linecap="butt"/>
<line x1="616.80" y1="154.40" x2="616.80" y2="158.00" stroke="#1e1e1e" stroke-width="1.3" stroke-linecap="butt"/>
<line x1="635.00" y1="154.40" x2="635.00" y2="158.00" stroke="#1e1e1e" stroke-width="1.3" stroke-linecap="butt"/>
<line x1="653.20" y1="154.40" x2="653.20" y2="158.00" stroke="#1e1e1e" stroke-width="1.3" stroke-linecap="butt"/>
<line x1="671.40" y1="154.40" x2="671.40" y2="158.00" stroke="#1e1e1e" stroke-width="1.3" stroke-linecap="butt"/>
<rect x="610.70" y="93.04" width="12.20" height="61.36" fill="#529df9"/>
<rect x="629.30" y="104.65" width="11.40" height="49.75" fill="url(#hb)" stroke="#529df9" stroke-width="0.8"/>
<rect x="647.10" y="88.08" width="12.20" height="66.32" fill="#f84444"/>
<rect x="665.30" y="109.44" width="12.20" height="44.96" fill="#f84444"/>
<line x1="616.80" y1="93.04" x2="616.80" y2="85.60" stroke="#86bcf9" stroke-width="1.0" stroke-linecap="butt"/>
<line x1="612.60" y1="85.60" x2="621.00" y2="85.60" stroke="#86bcf9" stroke-width="1.0" stroke-linecap="butt"/>
<line x1="635.00" y1="104.25" x2="635.00" y2="94.80" stroke="#86bcf9" stroke-width="1.0" stroke-linecap="butt"/>
<line x1="632.00" y1="94.80" x2="638.00" y2="94.80" stroke="#86bcf9" stroke-width="1.0" stroke-linecap="butt"/>
<line x1="653.20" y1="88.08" x2="653.20" y2="77.40" stroke="#f98a8a" stroke-width="1.0" stroke-linecap="butt"/>
<line x1="650.10" y1="77.40" x2="656.30" y2="77.40" stroke="#f98a8a" stroke-width="1.0" stroke-linecap="butt"/>
<line x1="671.40" y1="109.44" x2="671.40" y2="103.40" stroke="#f98a8a" stroke-width="1.0" stroke-linecap="butt"/>
<line x1="668.50" y1="103.40" x2="674.30" y2="103.40" stroke="#f98a8a" stroke-width="1.0" stroke-linecap="butt"/>
<circle cx="618.70" cy="47.30" r="1.2" fill="none" stroke="#2b2b2b" stroke-width="0.82"/>
<circle cx="615.10" cy="56.00" r="1.2" fill="none" stroke="#2b2b2b" stroke-width="0.82"/>
<circle cx="618.70" cy="69.30" r="1.2" fill="none" stroke="#2b2b2b" stroke-width="0.82"/>
<circle cx="615.10" cy="83.30" r="1.2" fill="none" stroke="#2b2b2b" stroke-width="0.82"/>
<circle cx="618.70" cy="87.50" r="1.2" fill="none" stroke="#2b2b2b" stroke-width="0.82"/>
<circle cx="615.10" cy="97.50" r="1.2" fill="none" stroke="#2b2b2b" stroke-width="0.82"/>
<circle cx="612.10" cy="104.60" r="1.2" fill="none" stroke="#2b2b2b" stroke-width="0.82"/>
<circle cx="615.50" cy="104.60" r="1.2" fill="none" stroke="#2b2b2b" stroke-width="0.82"/>
<circle cx="618.50" cy="104.60" r="1.2" fill="none" stroke="#2b2b2b" stroke-width="0.82"/>
<circle cx="621.40" cy="104.60" r="1.2" fill="none" stroke="#2b2b2b" stroke-width="0.82"/>
<circle cx="615.50" cy="112.20" r="1.2" fill="none" stroke="#2b2b2b" stroke-width="0.82"/>
<circle cx="615.50" cy="148.20" r="1.2" fill="none" stroke="#2b2b2b" stroke-width="0.82"/>
<circle cx="635.40" cy="59.50" r="1.2" fill="none" stroke="#2b2b2b" stroke-width="0.82"/>
<circle cx="635.40" cy="62.60" r="1.2" fill="none" stroke="#2b2b2b" stroke-width="0.82"/>
<circle cx="635.40" cy="76.10" r="1.2" fill="none" stroke="#2b2b2b" stroke-width="0.82"/>
<circle cx="635.40" cy="85.10" r="1.2" fill="none" stroke="#2b2b2b" stroke-width="0.82"/>
<circle cx="630.30" cy="122.80" r="1.2" fill="none" stroke="#2b2b2b" stroke-width="0.82"/>
<circle cx="635.40" cy="121.70" r="1.2" fill="none" stroke="#2b2b2b" stroke-width="0.82"/>
<circle cx="630.30" cy="126.70" r="1.2" fill="none" stroke="#2b2b2b" stroke-width="0.82"/>
<circle cx="635.40" cy="128.80" r="1.2" fill="none" stroke="#2b2b2b" stroke-width="0.82"/>
<circle cx="640.10" cy="128.40" r="1.2" fill="none" stroke="#2b2b2b" stroke-width="0.82"/>
<circle cx="635.40" cy="132.50" r="1.2" fill="none" stroke="#2b2b2b" stroke-width="0.82"/>
<circle cx="653.20" cy="55.60" r="1.2" fill="none" stroke="#2b2b2b" stroke-width="0.82"/>
<circle cx="653.20" cy="63.30" r="1.2" fill="none" stroke="#2b2b2b" stroke-width="0.82"/>
<circle cx="653.20" cy="85.60" r="1.2" fill="none" stroke="#2b2b2b" stroke-width="0.82"/>
<circle cx="653.20" cy="93.40" r="1.2" fill="none" stroke="#2b2b2b" stroke-width="0.82"/>
<circle cx="653.30" cy="103.10" r="1.2" fill="none" stroke="#2b2b2b" stroke-width="0.82"/>
<circle cx="653.30" cy="126.70" r="1.2" fill="none" stroke="#2b2b2b" stroke-width="0.82"/>
<circle cx="671.30" cy="66.90" r="1.2" fill="none" stroke="#2b2b2b" stroke-width="0.82"/>
<circle cx="666.40" cy="91.70" r="1.2" fill="none" stroke="#2b2b2b" stroke-width="0.82"/>
<circle cx="676.20" cy="92.10" r="1.2" fill="none" stroke="#2b2b2b" stroke-width="0.82"/>
<circle cx="671.50" cy="110.50" r="1.2" fill="none" stroke="#2b2b2b" stroke-width="0.82"/>
<circle cx="676.60" cy="109.70" r="1.2" fill="none" stroke="#2b2b2b" stroke-width="0.82"/>
<circle cx="666.50" cy="118.30" r="1.2" fill="none" stroke="#2b2b2b" stroke-width="0.82"/>
<circle cx="671.50" cy="116.90" r="1.2" fill="none" stroke="#2b2b2b" stroke-width="0.82"/>
<circle cx="671.50" cy="120.00" r="1.2" fill="none" stroke="#2b2b2b" stroke-width="0.82"/>
<circle cx="676.60" cy="115.80" r="1.2" fill="none" stroke="#2b2b2b" stroke-width="0.82"/>
<circle cx="671.50" cy="128.40" r="1.2" fill="none" stroke="#2b2b2b" stroke-width="0.82"/>
<circle cx="671.50" cy="135.50" r="1.2" fill="none" stroke="#2b2b2b" stroke-width="0.82"/>
<text font-size="11" text-anchor="end" transform="translate(603.60 169.90) skewX(0.4)">1 mM ACh</text>
<text font-size="11" text-anchor="end" transform="translate(603.60 182.90) skewX(0.4)">100 nM propoxur</text>
<text font-size="11" text-anchor="middle" transform="translate(616.60 170.40) skewX(0.4)">+</text>
<text font-size="11" text-anchor="middle" transform="translate(616.60 183.00) skewX(0.4)">-</text>
<text font-size="11" text-anchor="middle" transform="translate(634.80 170.40) skewX(0.4)">+</text>
<text font-size="11" text-anchor="middle" transform="translate(634.80 183.40) skewX(0.4)">+</text>
<text font-size="11" text-anchor="middle" transform="translate(653.00 170.40) skewX(0.4)">+</text>
<text font-size="11" text-anchor="middle" transform="translate(653.00 183.00) skewX(0.4)">-</text>
<text font-size="11" text-anchor="middle" transform="translate(671.20 170.40) skewX(0.4)">+</text>
<text font-size="11" text-anchor="middle" transform="translate(671.20 183.40) skewX(0.4)">+</text>
<line x1="611.00" y1="186.80" x2="640.90" y2="186.80" stroke="#62a5f7" stroke-width="1.5" stroke-linecap="butt"/>
<line x1="648.10" y1="186.80" x2="678.60" y2="186.80" stroke="#f04b55" stroke-width="1.5" stroke-linecap="butt"/>
<text font-size="11.3" text-anchor="middle" transform="translate(627.00 197.60) skewX(0.4)">Kis</text>
<text font-size="11.3" text-anchor="middle" transform="translate(663.00 197.60) skewX(0.4)">AcerKis</text>
<polyline points="616.90,35.70 616.90,30.10 653.90,30.10 653.90,35.70" fill="none" stroke="#474747" stroke-width="1.0" stroke-linejoin="miter"/>
<text font-size="9.6" text-anchor="middle" transform="translate(634.30 26.70) skewX(0.4) scale(0.92 1)">ns</text>
<polyline points="635.30,54.70 635.30,48.70 672.00,48.70 672.00,54.70" fill="none" stroke="#474747" stroke-width="1.0" stroke-linejoin="miter"/>
<text font-size="9.6" text-anchor="middle" transform="translate(652.60 44.40) skewX(0.4) scale(0.92 1)">ns</text>
<text font-size="11.1" text-anchor="middle" transform="translate(581.10 94.50) rotate(-90) skewX(0.4)">Duration (s)</text>
<text font-size="12.8" font-weight="bold" transform="translate(52.00 231.30) skewX(0.4)">e</text>
<line x1="98.30" y1="248.40" x2="98.30" y2="368.05" stroke="#1e1e1e" stroke-width="1.3" stroke-linecap="butt"/>
<line x1="93.50" y1="367.40" x2="98.30" y2="367.40" stroke="#1e1e1e" stroke-width="1.3" stroke-linecap="butt"/>
<text font-size="9.9" text-anchor="end" transform="translate(91.60 370.59) skewX(0.4) scale(0.88 1)">0</text>
<line x1="93.50" y1="327.73" x2="98.30" y2="327.73" stroke="#1e1e1e" stroke-width="1.3" stroke-linecap="butt"/>
<text font-size="9.9" text-anchor="end" transform="translate(91.60 330.93) skewX(0.4) scale(0.88 1)">1</text>
<line x1="93.50" y1="288.07" x2="98.30" y2="288.07" stroke="#1e1e1e" stroke-width="1.3" stroke-linecap="butt"/>
<text font-size="9.9" text-anchor="end" transform="translate(91.60 291.26) skewX(0.4) scale(0.88 1)">2</text>
<line x1="93.50" y1="248.40" x2="98.30" y2="248.40" stroke="#1e1e1e" stroke-width="1.3" stroke-linecap="butt"/>
<text font-size="9.9" text-anchor="end" transform="translate(91.60 251.59) skewX(0.4) scale(0.88 1)">3</text>
<line x1="95.70" y1="347.57" x2="98.30" y2="347.57" stroke="#1e1e1e" stroke-width="1.3" stroke-linecap="butt"/>
<line x1="95.70" y1="307.90" x2="98.30" y2="307.90" stroke="#1e1e1e" stroke-width="1.3" stroke-linecap="butt"/>
<line x1="95.70" y1="268.23" x2="98.30" y2="268.23" stroke="#1e1e1e" stroke-width="1.3" stroke-linecap="butt"/>
<line x1="98.30" y1="367.40" x2="177.30" y2="367.40" stroke="#1e1e1e" stroke-width="1.3" stroke-linecap="butt"/>
<line x1="120.70" y1="367.40" x2="120.70" y2="371.40" stroke="#1e1e1e" stroke-width="1.3" stroke-linecap="butt"/>
<line x1="154.60" y1="367.40" x2="154.60" y2="371.40" stroke="#1e1e1e" stroke-width="1.3" stroke-linecap="butt"/>
<rect x="109.40" y="299.00" width="22.70" height="68.40" fill="#529df9"/>
<rect x="143.20" y="322.10" width="23.00" height="45.30" fill="#f84444"/>
<line x1="120.70" y1="299.00" x2="120.70" y2="292.40" stroke="#86bcf9" stroke-width="1.0" stroke-linecap="butt"/>
<line x1="114.90" y1="292.40" x2="126.50" y2="292.40" stroke="#86bcf9" stroke-width="1.0" stroke-linecap="butt"/>
<line x1="154.60" y1="322.10" x2="154.60" y2="317.40" stroke="#f98a8a" stroke-width="1.0" stroke-linecap="butt"/>
<line x1="148.80" y1="317.40" x2="160.40" y2="317.40" stroke="#f98a8a" stroke-width="1.0" stroke-linecap="butt"/>
<circle cx="120.70" cy="259.70" r="1.2" fill="none" stroke="#2b2b2b" stroke-width="0.82"/>
<circle cx="120.70" cy="281.20" r="1.2" fill="none" stroke="#2b2b2b" stroke-width="0.82"/>
<circle cx="120.70" cy="287.30" r="1.2" fill="none" stroke="#2b2b2b" stroke-width="0.82"/>
<circle cx="120.70" cy="292.40" r="1.2" fill="none" stroke="#2b2b2b" stroke-width="0.82"/>
<circle cx="120.70" cy="299.40" r="1.2" fill="none" stroke="#2b2b2b" stroke-width="0.82"/>
<circle cx="115.50" cy="308.30" r="1.2" fill="none" stroke="#2b2b2b" stroke-width="0.82"/>
<circle cx="120.70" cy="307.10" r="1.2" fill="none" stroke="#2b2b2b" stroke-width="0.82"/>
<circle cx="120.70" cy="316.50" r="1.2" fill="none" stroke="#2b2b2b" stroke-width="0.82"/>
<circle cx="125.60" cy="315.10" r="1.2" fill="none" stroke="#2b2b2b" stroke-width="0.82"/>
<circle cx="120.70" cy="322.80" r="1.2" fill="none" stroke="#2b2b2b" stroke-width="0.82"/>
<circle cx="154.60" cy="312.30" r="1.2" fill="none" stroke="#2b2b2b" stroke-width="0.82"/>
<circle cx="154.60" cy="316.30" r="1.2" fill="none" stroke="#2b2b2b" stroke-width="0.82"/>
<circle cx="149.90" cy="319.30" r="1.2" fill="none" stroke="#2b2b2b" stroke-width="0.82"/>
<circle cx="154.60" cy="322.30" r="1.2" fill="none" stroke="#2b2b2b" stroke-width="0.82"/>
<circle cx="154.60" cy="339.60" r="1.2" fill="none" stroke="#2b2b2b" stroke-width="0.82"/>
<polyline points="120.30,252.90 120.30,246.10 154.70,246.10 154.70,252.90" fill="none" stroke="#474747" stroke-width="1.0" stroke-linejoin="miter"/>
<text font-size="10.3" text-anchor="middle" transform="translate(138.00 246.90) skewX(0.4)">*</text>
<text font-size="11.3" text-anchor="middle" transform="translate(120.40 381.80) skewX(0.4)">Kis</text>
<text font-size="11.3" text-anchor="middle" transform="translate(153.90 381.80) skewX(0.4)">AcerKis</text>
<text font-size="11.15" text-anchor="middle" transform="translate(79.30 307.90) rotate(-90) skewX(0.4)">Time to peak (s)</text>
<text font-size="12.8" font-weight="bold" transform="translate(215.80 233.60) skewX(0.4)">f</text>
<line x1="260.10" y1="249.70" x2="260.10" y2="367.85" stroke="#1e1e1e" stroke-width="1.3" stroke-linecap="butt"/>
<line x1="255.30" y1="367.20" x2="260.10" y2="367.20" stroke="#1e1e1e" stroke-width="1.3" stroke-linecap="butt"/>
<text font-size="9.9" text-anchor="end" transform="translate(253.80 370.39) skewX(0.4) scale(0.88 1)">0</text>
<line x1="255.30" y1="328.03" x2="260.10" y2="328.03" stroke="#1e1e1e" stroke-width="1.3" stroke-linecap="butt"/>
<text font-size="9.9" text-anchor="end" transform="translate(253.80 331.23) skewX(0.4) scale(0.88 1)">5</text>
<line x1="255.30" y1="288.87" x2="260.10" y2="288.87" stroke="#1e1e1e" stroke-width="1.3" stroke-linecap="butt"/>
<text font-size="9.9" text-anchor="end" transform="translate(253.80 292.06) skewX(0.4) scale(0.88 1)">10</text>
<line x1="255.30" y1="249.70" x2="260.10" y2="249.70" stroke="#1e1e1e" stroke-width="1.3" stroke-linecap="butt"/>
<text font-size="9.9" text-anchor="end" transform="translate(253.80 252.89) skewX(0.4) scale(0.88 1)">15</text>
<line x1="257.50" y1="347.62" x2="260.10" y2="347.62" stroke="#1e1e1e" stroke-width="1.3" stroke-linecap="butt"/>
<line x1="257.50" y1="308.45" x2="260.10" y2="308.45" stroke="#1e1e1e" stroke-width="1.3" stroke-linecap="butt"/>
<line x1="257.50" y1="269.28" x2="260.10" y2="269.28" stroke="#1e1e1e" stroke-width="1.3" stroke-linecap="butt"/>
<line x1="260.10" y1="367.20" x2="338.10" y2="367.20" stroke="#1e1e1e" stroke-width="1.3" stroke-linecap="butt"/>
<line x1="282.50" y1="367.20" x2="282.50" y2="371.20" stroke="#1e1e1e" stroke-width="1.3" stroke-linecap="butt"/>
<line x1="316.10" y1="367.20" x2="316.10" y2="371.20" stroke="#1e1e1e" stroke-width="1.3" stroke-linecap="butt"/>
<rect x="271.20" y="296.00" width="22.40" height="71.20" fill="#529df9"/>
<rect x="305.00" y="298.00" width="22.00" height="69.20" fill="#f84444"/>
<line x1="282.50" y1="296.00" x2="282.50" y2="293.40" stroke="#86bcf9" stroke-width="1.0" stroke-linecap="butt"/>
<line x1="277.20" y1="293.40" x2="287.80" y2="293.40" stroke="#86bcf9" stroke-width="1.0" stroke-linecap="butt"/>
<line x1="316.10" y1="298.00" x2="316.10" y2="296.10" stroke="#f98a8a" stroke-width="1.0" stroke-linecap="butt"/>
<line x1="310.30" y1="296.10" x2="321.90" y2="296.10" stroke="#f98a8a" stroke-width="1.0" stroke-linecap="butt"/>
<circle cx="282.50" cy="257.60" r="1.3" fill="none" stroke="#1a1a1a" stroke-width="0.75"/>
<circle cx="283.30" cy="257.60" r="1.3" fill="none" stroke="#1a1a1a" stroke-width="0.75"/>
<circle cx="275.40" cy="273.40" r="1.15" fill="none" stroke="#1a1a1a" stroke-width="0.75"/>
<circle cx="276.96" cy="273.40" r="1.15" fill="none" stroke="#1a1a1a" stroke-width="0.75"/>
<circle cx="278.51" cy="273.40" r="1.15" fill="none" stroke="#1a1a1a" stroke-width="0.75"/>
<circle cx="280.07" cy="273.40" r="1.15" fill="none" stroke="#1a1a1a" stroke-width="0.75"/>
<circle cx="281.62" cy="273.40" r="1.15" fill="none" stroke="#1a1a1a" stroke-width="0.75"/>
<circle cx="283.18" cy="273.40" r="1.15" fill="none" stroke="#1a1a1a" stroke-width="0.75"/>
<circle cx="284.73" cy="273.40" r="1.15" fill="none" stroke="#1a1a1a" stroke-width="0.75"/>
<circle cx="286.29" cy="273.40" r="1.15" fill="none" stroke="#1a1a1a" stroke-width="0.75"/>
<circle cx="287.84" cy="273.40" r="1.15" fill="none" stroke="#1a1a1a" stroke-width="0.75"/>
<circle cx="289.40" cy="273.40" r="1.15" fill="none" stroke="#1a1a1a" stroke-width="0.75"/>
<circle cx="282.00" cy="279.80" r="1.3" fill="none" stroke="#1a1a1a" stroke-width="0.75"/>
<circle cx="283.20" cy="279.80" r="1.3" fill="none" stroke="#1a1a1a" stroke-width="0.75"/>
<circle cx="277.80" cy="289.10" r="1.15" fill="none" stroke="#1a1a1a" stroke-width="0.75"/>
<circle cx="279.28" cy="289.10" r="1.15" fill="none" stroke="#1a1a1a" stroke-width="0.75"/>
<circle cx="280.77" cy="289.10" r="1.15" fill="none" stroke="#1a1a1a" stroke-width="0.75"/>
<circle cx="282.25" cy="289.10" r="1.15" fill="none" stroke="#1a1a1a" stroke-width="0.75"/>
<circle cx="283.73" cy="289.10" r="1.15" fill="none" stroke="#1a1a1a" stroke-width="0.75"/>
<circle cx="285.22" cy="289.10" r="1.15" fill="none" stroke="#1a1a1a" stroke-width="0.75"/>
<circle cx="286.70" cy="289.10" r="1.15" fill="none" stroke="#1a1a1a" stroke-width="0.75"/>
<circle cx="272.50" cy="304.80" r="1.15" fill="none" stroke="#1a1a1a" stroke-width="0.75"/>
<circle cx="274.17" cy="304.80" r="1.15" fill="none" stroke="#1a1a1a" stroke-width="0.75"/>
<circle cx="275.83" cy="304.80" r="1.15" fill="none" stroke="#1a1a1a" stroke-width="0.75"/>
<circle cx="277.50" cy="304.80" r="1.15" fill="none" stroke="#1a1a1a" stroke-width="0.75"/>
<circle cx="279.17" cy="304.80" r="1.15" fill="none" stroke="#1a1a1a" stroke-width="0.75"/>
<circle cx="280.83" cy="304.80" r="1.15" fill="none" stroke="#1a1a1a" stroke-width="0.75"/>
<circle cx="282.50" cy="304.80" r="1.15" fill="none" stroke="#1a1a1a" stroke-width="0.75"/>
<circle cx="284.17" cy="304.80" r="1.15" fill="none" stroke="#1a1a1a" stroke-width="0.75"/>
<circle cx="285.83" cy="304.80" r="1.15" fill="none" stroke="#1a1a1a" stroke-width="0.75"/>
<circle cx="287.50" cy="304.80" r="1.15" fill="none" stroke="#1a1a1a" stroke-width="0.75"/>
<circle cx="289.17" cy="304.80" r="1.15" fill="none" stroke="#1a1a1a" stroke-width="0.75"/>
<circle cx="290.83" cy="304.80" r="1.15" fill="none" stroke="#1a1a1a" stroke-width="0.75"/>
<circle cx="292.50" cy="304.80" r="1.15" fill="none" stroke="#1a1a1a" stroke-width="0.75"/>
<circle cx="275.40" cy="320.60" r="1.15" fill="none" stroke="#1a1a1a" stroke-width="0.75"/>
<circle cx="276.98" cy="320.60" r="1.15" fill="none" stroke="#1a1a1a" stroke-width="0.75"/>
<circle cx="278.56" cy="320.60" r="1.15" fill="none" stroke="#1a1a1a" stroke-width="0.75"/>
<circle cx="280.13" cy="320.60" r="1.15" fill="none" stroke="#1a1a1a" stroke-width="0.75"/>
<circle cx="281.71" cy="320.60" r="1.15" fill="none" stroke="#1a1a1a" stroke-width="0.75"/>
<circle cx="283.29" cy="320.60" r="1.15" fill="none" stroke="#1a1a1a" stroke-width="0.75"/>
<circle cx="284.87" cy="320.60" r="1.15" fill="none" stroke="#1a1a1a" stroke-width="0.75"/>
<circle cx="286.44" cy="320.60" r="1.15" fill="none" stroke="#1a1a1a" stroke-width="0.75"/>
<circle cx="288.02" cy="320.60" r="1.15" fill="none" stroke="#1a1a1a" stroke-width="0.75"/>
<circle cx="289.60" cy="320.60" r="1.15" fill="none" stroke="#1a1a1a" stroke-width="0.75"/>
<circle cx="315.60" cy="269.30" r="1.3" fill="none" stroke="#1a1a1a" stroke-width="0.75"/>
<circle cx="316.60" cy="269.30" r="1.3" fill="none" stroke="#1a1a1a" stroke-width="0.75"/>
<circle cx="311.40" cy="273.40" r="1.15" fill="none" stroke="#1a1a1a" stroke-width="0.75"/>
<circle cx="313.03" cy="273.40" r="1.15" fill="none" stroke="#1a1a1a" stroke-width="0.75"/>
<circle cx="314.67" cy="273.40" r="1.15" fill="none" stroke="#1a1a1a" stroke-width="0.75"/>
<circle cx="316.30" cy="273.40" r="1.15" fill="none" stroke="#1a1a1a" stroke-width="0.75"/>
<circle cx="317.93" cy="273.40" r="1.15" fill="none" stroke="#1a1a1a" stroke-width="0.75"/>
<circle cx="319.57" cy="273.40" r="1.15" fill="none" stroke="#1a1a1a" stroke-width="0.75"/>
<circle cx="321.20" cy="273.40" r="1.15" fill="none" stroke="#1a1a1a" stroke-width="0.75"/>
<circle cx="316.10" cy="283.30" r="1.2" fill="none" stroke="#2b2b2b" stroke-width="0.82"/>
<circle cx="309.90" cy="289.10" r="1.15" fill="none" stroke="#1a1a1a" stroke-width="0.75"/>
<circle cx="311.45" cy="289.10" r="1.15" fill="none" stroke="#1a1a1a" stroke-width="0.75"/>
<circle cx="313.00" cy="289.10" r="1.15" fill="none" stroke="#1a1a1a" stroke-width="0.75"/>
<circle cx="314.55" cy="289.10" r="1.15" fill="none" stroke="#1a1a1a" stroke-width="0.75"/>
<circle cx="316.10" cy="289.10" r="1.15" fill="none" stroke="#1a1a1a" stroke-width="0.75"/>
<circle cx="317.65" cy="289.10" r="1.15" fill="none" stroke="#1a1a1a" stroke-width="0.75"/>
<circle cx="319.20" cy="289.10" r="1.15" fill="none" stroke="#1a1a1a" stroke-width="0.75"/>
<circle cx="320.75" cy="289.10" r="1.15" fill="none" stroke="#1a1a1a" stroke-width="0.75"/>
<circle cx="322.30" cy="289.10" r="1.15" fill="none" stroke="#1a1a1a" stroke-width="0.75"/>
<circle cx="316.10" cy="294.70" r="1.2" fill="none" stroke="#2b2b2b" stroke-width="0.82"/>
<circle cx="316.10" cy="299.10" r="1.2" fill="none" stroke="#2b2b2b" stroke-width="0.82"/>
<circle cx="306.00" cy="304.80" r="1.15" fill="none" stroke="#1a1a1a" stroke-width="0.75"/>
<circle cx="307.57" cy="304.80" r="1.15" fill="none" stroke="#1a1a1a" stroke-width="0.75"/>
<circle cx="309.14" cy="304.80" r="1.15" fill="none" stroke="#1a1a1a" stroke-width="0.75"/>
<circle cx="310.71" cy="304.80" r="1.15" fill="none" stroke="#1a1a1a" stroke-width="0.75"/>
<circle cx="312.28" cy="304.80" r="1.15" fill="none" stroke="#1a1a1a" stroke-width="0.75"/>
<circle cx="313.85" cy="304.80" r="1.15" fill="none" stroke="#1a1a1a" stroke-width="0.75"/>
<circle cx="315.42" cy="304.80" r="1.15" fill="none" stroke="#1a1a1a" stroke-width="0.75"/>
<circle cx="316.98" cy="304.80" r="1.15" fill="none" stroke="#1a1a1a" stroke-width="0.75"/>
<circle cx="318.55" cy="304.80" r="1.15" fill="none" stroke="#1a1a1a" stroke-width="0.75"/>
<circle cx="320.12" cy="304.80" r="1.15" fill="none" stroke="#1a1a1a" stroke-width="0.75"/>
<circle cx="321.69" cy="304.80" r="1.15" fill="none" stroke="#1a1a1a" stroke-width="0.75"/>
<circle cx="323.26" cy="304.80" r="1.15" fill="none" stroke="#1a1a1a" stroke-width="0.75"/>
<circle cx="324.83" cy="304.80" r="1.15" fill="none" stroke="#1a1a1a" stroke-width="0.75"/>
<circle cx="326.40" cy="304.80" r="1.15" fill="none" stroke="#1a1a1a" stroke-width="0.75"/>
<circle cx="309.50" cy="306.30" r="1.15" fill="none" stroke="#1a1a1a" stroke-width="0.75"/>
<circle cx="311.67" cy="306.30" r="1.15" fill="none" stroke="#1a1a1a" stroke-width="0.75"/>
<circle cx="313.83" cy="306.30" r="1.15" fill="none" stroke="#1a1a1a" stroke-width="0.75"/>
<circle cx="316.00" cy="306.30" r="1.15" fill="none" stroke="#1a1a1a" stroke-width="0.75"/>
<circle cx="318.17" cy="306.30" r="1.15" fill="none" stroke="#1a1a1a" stroke-width="0.75"/>
<circle cx="320.33" cy="306.30" r="1.15" fill="none" stroke="#1a1a1a" stroke-width="0.75"/>
<circle cx="322.50" cy="306.30" r="1.15" fill="none" stroke="#1a1a1a" stroke-width="0.75"/>
<circle cx="312.50" cy="307.90" r="1.15" fill="none" stroke="#1a1a1a" stroke-width="0.75"/>
<circle cx="314.83" cy="307.90" r="1.15" fill="none" stroke="#1a1a1a" stroke-width="0.75"/>
<circle cx="317.17" cy="307.90" r="1.15" fill="none" stroke="#1a1a1a" stroke-width="0.75"/>
<circle cx="319.50" cy="307.90" r="1.15" fill="none" stroke="#1a1a1a" stroke-width="0.75"/>
<circle cx="307.30" cy="302.60" r="1.2" fill="none" stroke="#2b2b2b" stroke-width="0.82"/>
<circle cx="314.00" cy="318.40" r="1.15" fill="none" stroke="#1a1a1a" stroke-width="0.75"/>
<circle cx="315.40" cy="318.40" r="1.15" fill="none" stroke="#1a1a1a" stroke-width="0.75"/>
<circle cx="316.80" cy="318.40" r="1.15" fill="none" stroke="#1a1a1a" stroke-width="0.75"/>
<circle cx="318.20" cy="318.40" r="1.15" fill="none" stroke="#1a1a1a" stroke-width="0.75"/>
<circle cx="316.10" cy="324.50" r="1.2" fill="none" stroke="#2b2b2b" stroke-width="0.82"/>
<circle cx="316.10" cy="328.30" r="1.2" fill="none" stroke="#2b2b2b" stroke-width="0.82"/>
<polyline points="282.40,253.20 282.40,247.00 316.70,247.00 316.70,253.20" fill="none" stroke="#474747" stroke-width="1.0" stroke-linejoin="miter"/>
<text font-size="9.6" text-anchor="middle" transform="translate(298.60 243.00) skewX(0.4) scale(0.92 1)">ns</text>
<text font-size="11.3" text-anchor="middle" transform="translate(282.30 381.60) skewX(0.4)">Kis</text>
<text font-size="11.3" text-anchor="middle" transform="translate(316.30 381.60) skewX(0.4)">AcerKis</text>
<text font-size="11" text-anchor="middle" transform="translate(237.00 307.80) rotate(-90) skewX(0.4)">Neuron cell body diameter (μm)</text>
<text font-size="12.8" font-weight="bold" transform="translate(355.00 232.20) skewX(0.4)">g</text>
<line x1="400.90" y1="249.40" x2="400.90" y2="276.60" stroke="#1e1e1e" stroke-width="1.3" stroke-linecap="butt"/>
<line x1="396.10" y1="249.40" x2="400.90" y2="249.40" stroke="#1e1e1e" stroke-width="1.3" stroke-linecap="butt"/>
<line x1="398.30" y1="263.00" x2="400.90" y2="263.00" stroke="#1e1e1e" stroke-width="1.3" stroke-linecap="butt"/>
<line x1="397.90" y1="276.60" x2="403.90" y2="276.60" stroke="#1e1e1e" stroke-width="1.3" stroke-linecap="butt"/>
<line x1="400.90" y1="285.00" x2="400.90" y2="366.05" stroke="#1e1e1e" stroke-width="1.3" stroke-linecap="butt"/>
<line x1="397.90" y1="285.00" x2="403.90" y2="285.00" stroke="#1e1e1e" stroke-width="1.3" stroke-linecap="butt"/>
<line x1="396.10" y1="365.40" x2="400.90" y2="365.40" stroke="#1e1e1e" stroke-width="1.3" stroke-linecap="butt"/>
<line x1="396.10" y1="338.60" x2="400.90" y2="338.60" stroke="#1e1e1e" stroke-width="1.3" stroke-linecap="butt"/>
<line x1="396.10" y1="311.80" x2="400.90" y2="311.80" stroke="#1e1e1e" stroke-width="1.3" stroke-linecap="butt"/>
<line x1="398.30" y1="352.00" x2="400.90" y2="352.00" stroke="#1e1e1e" stroke-width="1.3" stroke-linecap="butt"/>
<line x1="398.30" y1="325.20" x2="400.90" y2="325.20" stroke="#1e1e1e" stroke-width="1.3" stroke-linecap="butt"/>
<line x1="398.30" y1="298.40" x2="400.90" y2="298.40" stroke="#1e1e1e" stroke-width="1.3" stroke-linecap="butt"/>
<text font-size="9.3" text-anchor="end" transform="translate(395.30 252.38) skewX(0.4) scale(0.95 1)">120</text>
<text font-size="9.3" text-anchor="end" transform="translate(395.30 279.58) skewX(0.4) scale(0.95 1)">100</text>
<text font-size="9.3" text-anchor="end" transform="translate(395.30 287.98) skewX(0.4) scale(0.95 1)">60</text>
<text font-size="9.3" text-anchor="end" transform="translate(395.30 314.78) skewX(0.4) scale(0.95 1)">40</text>
<text font-size="9.3" text-anchor="end" transform="translate(395.30 341.58) skewX(0.4) scale(0.95 1)">20</text>
<text font-size="9.3" text-anchor="end" transform="translate(395.30 368.38) skewX(0.4) scale(0.95 1)">0</text>
<line x1="400.90" y1="365.40" x2="480.00" y2="365.40" stroke="#1e1e1e" stroke-width="1.3" stroke-linecap="butt"/>
<line x1="420.30" y1="365.40" x2="420.30" y2="369.40" stroke="#1e1e1e" stroke-width="1.3" stroke-linecap="butt"/>
<line x1="459.40" y1="365.40" x2="459.40" y2="369.40" stroke="#1e1e1e" stroke-width="1.3" stroke-linecap="butt"/>
<rect x="407.20" y="362.80" width="26.00" height="2.60" fill="#529df9"/>
<rect x="446.70" y="332.40" width="25.20" height="33.00" fill="#f84444"/>
<line x1="420.30" y1="362.80" x2="420.30" y2="361.10" stroke="#86bcf9" stroke-width="1.0" stroke-linecap="butt"/>
<line x1="414.10" y1="361.10" x2="426.50" y2="361.10" stroke="#86bcf9" stroke-width="1.0" stroke-linecap="butt"/>
<line x1="459.40" y1="332.40" x2="459.40" y2="306.10" stroke="#f98a8a" stroke-width="1.0" stroke-linecap="butt"/>
<line x1="452.20" y1="306.10" x2="466.60" y2="306.10" stroke="#f98a8a" stroke-width="1.0" stroke-linecap="butt"/>
<circle cx="420.40" cy="358.20" r="1.2" fill="none" stroke="#2b2b2b" stroke-width="0.82"/>
<circle cx="420.40" cy="362.10" r="1.2" fill="none" stroke="#2b2b2b" stroke-width="0.82"/>
<circle cx="425.00" cy="364.30" r="1.2" fill="none" stroke="#2b2b2b" stroke-width="0.82"/>
<circle cx="415.70" cy="365.60" r="1.2" fill="none" stroke="#2b2b2b" stroke-width="0.82"/>
<circle cx="459.60" cy="273.70" r="1.2" fill="none" stroke="#2b2b2b" stroke-width="0.82"/>
<circle cx="459.60" cy="350.80" r="1.2" fill="none" stroke="#2b2b2b" stroke-width="0.82"/>
<circle cx="459.60" cy="355.10" r="1.2" fill="none" stroke="#2b2b2b" stroke-width="0.82"/>
<circle cx="454.40" cy="363.90" r="1.2" fill="none" stroke="#2b2b2b" stroke-width="0.82"/>
<circle cx="464.00" cy="362.40" r="1.2" fill="none" stroke="#2b2b2b" stroke-width="0.82"/>
<polyline points="420.30,269.80 420.30,264.20 459.40,264.20 459.40,269.80" fill="none" stroke="#474747" stroke-width="1.0" stroke-linejoin="miter"/>
<text font-size="10.2" text-anchor="middle" transform="translate(439.60 259.30) skewX(0.4)">#</text>
<text font-size="11.3" text-anchor="middle" transform="translate(420.00 381.50) skewX(0.4)">Kis</text>
<text font-size="11.3" text-anchor="middle" transform="translate(459.10 381.50) skewX(0.4)">AcerKis</text>
<text font-size="9.7" text-anchor="middle" transform="translate(373.00 308.30) rotate(-90) skewX(0.4)">Charge entry (pC)</text>
<text font-size="12.8" font-weight="bold" transform="translate(510.60 233.00) skewX(0.4)">h</text>
<line x1="560.40" y1="249.50" x2="560.40" y2="270.90" stroke="#1e1e1e" stroke-width="1.3" stroke-linecap="butt"/>
<line x1="555.60" y1="249.50" x2="560.40" y2="249.50" stroke="#1e1e1e" stroke-width="1.3" stroke-linecap="butt"/>
<line x1="557.40" y1="270.90" x2="563.40" y2="270.90" stroke="#1e1e1e" stroke-width="1.3" stroke-linecap="butt"/>
<line x1="560.40" y1="279.60" x2="560.40" y2="366.05" stroke="#1e1e1e" stroke-width="1.3" stroke-linecap="butt"/>
<line x1="557.40" y1="279.60" x2="563.40" y2="279.60" stroke="#1e1e1e" stroke-width="1.3" stroke-linecap="butt"/>
<line x1="555.60" y1="365.40" x2="560.40" y2="365.40" stroke="#1e1e1e" stroke-width="1.3" stroke-linecap="butt"/>
<line x1="555.60" y1="343.95" x2="560.40" y2="343.95" stroke="#1e1e1e" stroke-width="1.3" stroke-linecap="butt"/>
<line x1="555.60" y1="322.50" x2="560.40" y2="322.50" stroke="#1e1e1e" stroke-width="1.3" stroke-linecap="butt"/>
<line x1="555.60" y1="301.05" x2="560.40" y2="301.05" stroke="#1e1e1e" stroke-width="1.3" stroke-linecap="butt"/>
<line x1="557.80" y1="354.67" x2="560.40" y2="354.67" stroke="#1e1e1e" stroke-width="1.3" stroke-linecap="butt"/>
<line x1="557.80" y1="333.23" x2="560.40" y2="333.23" stroke="#1e1e1e" stroke-width="1.3" stroke-linecap="butt"/>
<line x1="557.80" y1="311.77" x2="560.40" y2="311.77" stroke="#1e1e1e" stroke-width="1.3" stroke-linecap="butt"/>
<line x1="557.80" y1="290.33" x2="560.40" y2="290.33" stroke="#1e1e1e" stroke-width="1.3" stroke-linecap="butt"/>
<text font-size="9.3" text-anchor="end" transform="translate(553.60 252.48) skewX(0.4) scale(0.95 1)">0.40</text>
<text font-size="9.3" text-anchor="end" transform="translate(553.60 273.88) skewX(0.4) scale(0.95 1)">0.35</text>
<text font-size="9.3" text-anchor="end" transform="translate(553.60 282.58) skewX(0.4) scale(0.95 1)">0.20</text>
<text font-size="9.3" text-anchor="end" transform="translate(553.60 304.03) skewX(0.4) scale(0.95 1)">0.15</text>
<text font-size="9.3" text-anchor="end" transform="translate(553.60 325.48) skewX(0.4) scale(0.95 1)">0.10</text>
<text font-size="9.3" text-anchor="end" transform="translate(553.60 346.93) skewX(0.4) scale(0.95 1)">0.05</text>
<text font-size="9.3" text-anchor="end" transform="translate(553.60 368.38) skewX(0.4) scale(0.95 1)">0.00</text>
<line x1="560.40" y1="365.40" x2="637.80" y2="365.40" stroke="#1e1e1e" stroke-width="1.3" stroke-linecap="butt"/>
<line x1="579.00" y1="365.40" x2="579.00" y2="369.40" stroke="#1e1e1e" stroke-width="1.3" stroke-linecap="butt"/>
<line x1="617.70" y1="365.40" x2="617.70" y2="369.40" stroke="#1e1e1e" stroke-width="1.3" stroke-linecap="butt"/>
<rect x="566.10" y="362.00" width="25.90" height="3.40" fill="#529df9"/>
<rect x="605.10" y="320.40" width="25.30" height="45.00" fill="#f84444"/>
<line x1="579.00" y1="362.00" x2="579.00" y2="360.00" stroke="#86bcf9" stroke-width="1.0" stroke-linecap="butt"/>
<line x1="572.60" y1="360.00" x2="585.40" y2="360.00" stroke="#86bcf9" stroke-width="1.0" stroke-linecap="butt"/>
<line x1="617.70" y1="320.40" x2="617.70" y2="289.00" stroke="#f98a8a" stroke-width="1.0" stroke-linecap="butt"/>
<line x1="611.10" y1="289.00" x2="624.30" y2="289.00" stroke="#f98a8a" stroke-width="1.0" stroke-linecap="butt"/>
<circle cx="579.00" cy="357.10" r="1.2" fill="none" stroke="#2b2b2b" stroke-width="0.82"/>
<circle cx="579.00" cy="361.50" r="1.2" fill="none" stroke="#2b2b2b" stroke-width="0.82"/>
<circle cx="583.60" cy="364.30" r="1.2" fill="none" stroke="#2b2b2b" stroke-width="0.82"/>
<circle cx="574.30" cy="365.60" r="1.2" fill="none" stroke="#2b2b2b" stroke-width="0.82"/>
<circle cx="617.90" cy="252.20" r="1.2" fill="none" stroke="#2b2b2b" stroke-width="0.82"/>
<circle cx="617.70" cy="344.60" r="1.2" fill="none" stroke="#2b2b2b" stroke-width="0.82"/>
<circle cx="617.70" cy="347.60" r="1.2" fill="none" stroke="#2b2b2b" stroke-width="0.82"/>
<circle cx="617.70" cy="352.30" r="1.2" fill="none" stroke="#2b2b2b" stroke-width="0.82"/>
<circle cx="617.70" cy="361.00" r="1.2" fill="none" stroke="#2b2b2b" stroke-width="0.82"/>
<polyline points="578.50,246.60 578.50,240.80 617.90,240.80 617.90,246.60" fill="none" stroke="#474747" stroke-width="1.0" stroke-linejoin="miter"/>
<text font-size="10.2" text-anchor="middle" transform="translate(598.00 235.60) skewX(0.4)">#</text>
<text font-size="11.3" text-anchor="middle" transform="translate(578.60 381.50) skewX(0.4)">Kis</text>
<text font-size="11.3" text-anchor="middle" transform="translate(617.60 381.50) skewX(0.4)">AcerKis</text>
<text font-size="9.75" text-anchor="middle" transform="translate(531.30 306.50) rotate(-90) skewX(0.4)">Current density (pC/μm²)</text>
</svg>
</body></html>
